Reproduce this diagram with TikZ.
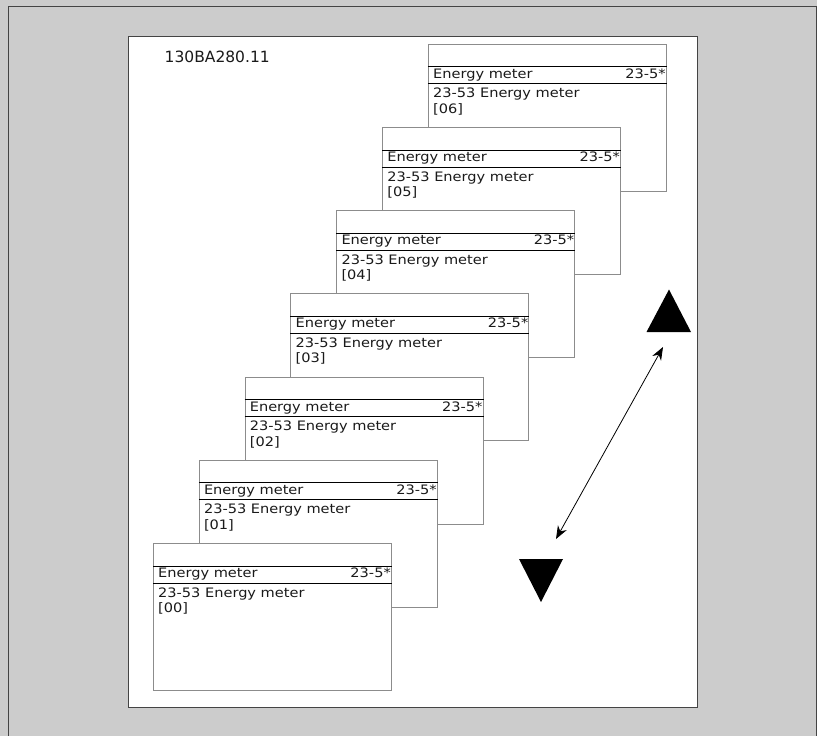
\documentclass[tikz,border=0pt]{standalone}
\usepackage{fontspec}
\setmainfont{DejaVu Sans}
\newfontfamily\scrfont[FakeStretch=1.12]{DejaVu Sans}
\usetikzlibrary{calc,arrows.meta}
\definecolor{bg}{HTML}{CCCCCC}
\definecolor{framec}{HTML}{444444}
\definecolor{scrgray}{HTML}{8C8C8C}
\definecolor{txt}{HTML}{1A1A1A}
\begin{document}
\begin{tikzpicture}[x=1pt,y=-1pt,
  screen/.style={rectangle, draw=scrgray, fill=white, line width=1pt,
    minimum width=238pt, minimum height=147pt, inner sep=0pt, anchor=north west},
  divider/.style={black, line width=1pt},
  scrtext/.style={font=\scrfont\fontsize{13}{15}\selectfont, text=txt, inner sep=0pt},
  codetext/.style={font=\fontsize{15.5}{18}\selectfont, text=txt, inner sep=0pt},
  tri/.style={fill=black, draw=none},
  dblarrow/.style={{Stealth[length=13pt,width=10pt]}-{Stealth[length=13pt,width=10pt]}, line width=0.8pt}]
\fill[bg] (0,0) rectangle (817,736);
\useasboundingbox (0,0) rectangle (817,736);
\draw[framec, line width=1pt] (8,740) -- (8,6) -- (816,6) -- (816,740);
\draw[framec, line width=1pt, fill=white] (128,36) rectangle (697,707);
\node[codetext, anchor=base west] (code) at (164.5,62.5) {130BA280.11};
\foreach \k/\lbl in {6/06,5/05,4/04,3/03,2/02,1/01,0/00}{
  \node[screen] (s\k) at ({153+45.83*\k},{543-83.17*\k}) {};
  \draw[divider] ([yshift=-23pt]s\k.north west) -- ([yshift=-23pt]s\k.north east);
  \draw[divider] ([yshift=-40pt]s\k.north west) -- ([yshift=-40pt]s\k.north east);
  \node[scrtext, anchor=base west] (t\k) at ($(s\k.north west)+(5,34.5)$) {Energy meter};
  \node[scrtext, anchor=base east] (n\k) at ($(s\k.north east)+(-1,34.5)$) {23-5*};
  \node[scrtext, anchor=base west] (p\k) at ($(s\k.north west)+(5,54)$) {23-53 Energy meter};
  \node[scrtext, anchor=base west] (v\k) at ($(s\k.north west)+(5,69.5)$) {[\lbl]};
}
\fill[tri] (646.5,332) -- (669,289.5) -- (691,332) -- cycle;
\fill[tri] (519,559) -- (563,559) -- (541,602) -- cycle;
\coordinate (a1) at (556,539);
\coordinate (a2) at (663,347);
\draw[dblarrow] (a1) -- (a2);
\end{tikzpicture}
\end{document}
